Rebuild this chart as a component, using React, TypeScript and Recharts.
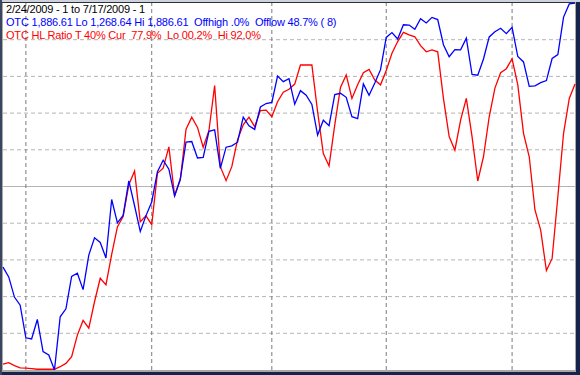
import React from 'react';
import { LineChart, Line, XAxis, YAxis, ReferenceLine } from 'recharts';

const dates: string[] = [
  '2/24', '2/25', '2/26', '2/27',
  '3/2', '3/3', '3/4', '3/5', '3/6', '3/9', '3/10', '3/11', '3/12', '3/13', '3/16', '3/17', '3/18', '3/19', '3/20',
  '3/23', '3/24', '3/25', '3/26', '3/27', '3/30', '3/31',
  '4/1', '4/2', '4/3', '4/6', '4/7', '4/8', '4/9', '4/13', '4/14', '4/15', '4/16', '4/17', '4/20', '4/21', '4/22',
  '4/23', '4/24', '4/27', '4/28', '4/29', '4/30',
  '5/1', '5/4', '5/5', '5/6', '5/7', '5/8', '5/11', '5/12', '5/13', '5/14', '5/15', '5/18', '5/19', '5/20', '5/21',
  '5/22', '5/26', '5/27', '5/28', '5/29',
  '6/1', '6/2', '6/3', '6/4', '6/5', '6/8', '6/9', '6/10', '6/11', '6/12', '6/15', '6/16', '6/17', '6/18', '6/19',
  '6/22', '6/23', '6/24', '6/25', '6/26', '6/29', '6/30',
  '7/1', '7/2', '7/6', '7/7', '7/8', '7/9', '7/10', '7/13', '7/14', '7/15', '7/16', '7/17',
];

const otc: number[] = [
  1441.83, 1425.43, 1391.47, 1377.84,
  1322.85, 1321.01, 1353.74, 1299.59, 1293.85, 1268.64, 1358.28, 1371.64, 1426.1, 1431.5, 1404.02, 1462.11, 1491.22,
  1483.48, 1457.27, 1555.77, 1516.52, 1528.95, 1587.0, 1545.2, 1501.8, 1528.59,
  1551.6, 1602.63, 1621.87, 1606.71, 1561.61, 1590.66, 1652.54, 1653.31, 1625.72, 1626.8, 1670.44, 1673.07, 1608.21,
  1643.85, 1646.12, 1652.21, 1694.29, 1679.7, 1673.81, 1711.51, 1717.3,
  1719.2, 1763.56, 1754.12, 1759.1, 1716.24, 1739.0, 1731.24, 1715.92, 1664.19, 1689.21, 1680.14, 1732.36, 1734.54,
  1727.84, 1695.25, 1692.01, 1750.43, 1731.08, 1751.79, 1774.33,
  1828.68, 1836.8, 1825.92, 1850.02, 1849.42, 1842.4, 1860.13, 1853.08, 1862.37, 1858.8, 1816.38, 1796.18, 1808.06,
  1807.72, 1827.47, 1766.19, 1764.92, 1792.34, 1829.54, 1838.22, 1844.06, 1835.04,
  1845.72, 1796.52, 1787.4, 1746.17, 1747.17, 1752.55, 1756.03, 1793.21, 1799.73, 1862.9, 1885.03, 1886.61,
];

const hlRatio: number[] = [
  1.6, 2.0, 1.2, 0.6,
  0.5, 0.4, 0.2, 0.2, 0.2, 0.2, 0.9, 1.8, 3.6, 9.5, 13.5, 11.4, 18.6, 25.0, 23.2,
  31.5, 39.0, 41.8, 50.5, 54.2, 40.4, 42.0,
  39.6, 53.6, 55.0, 60.8, 47.5, 51.8, 65.6, 68.9, 66.1, 60.7, 65.2, 77.5, 55.4, 51.6, 55.4,
  62.7, 66.8, 68.9, 66.3, 70.7, 70.8,
  69.0, 73.1, 75.7, 76.5, 77.9, 83.1, 83.1, 83.1, 70.4, 59.0, 55.6, 66.8, 77.0, 80.4, 74.0,
  77.7, 81.0, 81.9, 79.0, 77.7,
  81.6, 86.3, 89.5, 92.0, 91.3, 90.8, 88.4, 86.7, 87.2, 86.7, 74.0, 63.6, 59.9, 68.1, 74.0,
  63.6, 51.5, 58.1, 69.0, 76.8, 81.0, 82.1,
  84.8, 77.7, 64.5, 58.1, 43.6, 38.1, 27.1, 30.4, 47.2, 64.5, 74.0, 77.9,
];

const monthStarts: string[] = ['3/2', '4/1', '5/1', '6/1', '7/1'];
const dashedLevels: number[] = [10, 20, 30, 40, 60, 70, 80, 90];
const solidLevel = 50;

const headerLines: { text: string; color: string }[] = [
  { text: '2/24/2009 - 1 to 7/17/2009 - 1', color: '#000000' },
  { text: 'OTC 1,886.61 Lo 1,268.64 Hi 1,886.61  Offhigh .0%  Offlow 48.7% ( 8)', color: '#0000ff' },
  { text: 'OTC HL Ratio T 40% Cur  77.9%  Lo 00.2%  Hi 92.0%', color: '#ff0000' },
];

const data = dates.map((d, i) => ({ date: d, otc: otc[i], ratio: hlRatio[i] }));

export default function App() {
  return (
    <div style={{ position: 'fixed', left: 0, top: 0, width: 580, height: 375, background: '#16244c', overflow: 'hidden' }}>
      <div style={{ position: 'absolute', left: 0, top: 0, width: 580, height: 2, background: '#cdd3de' }} />
      <div style={{ position: 'absolute', left: 0, top: 0, width: 2, height: 375, background: '#3a4660' }} />
      <div style={{ position: 'absolute', left: 2, top: 2, width: 574, height: 370, background: '#a8a8a8' }} />
      <div style={{ position: 'absolute', left: 2, top: 2, width: 573, height: 1, background: '#303030' }} />
      <div style={{ position: 'absolute', left: 3, top: 3, width: 572, height: 367, background: '#ffffff' }} />
      <div style={{ position: 'absolute', left: 0, top: 0 }}>
        <LineChart width={580} height={375} data={data} margin={{ top: 3, right: 5, bottom: 5, left: 3 }}>
          <XAxis dataKey="date" hide padding={{ left: 0, right: 0 }} />
          <YAxis yAxisId="ratio" hide domain={[0, 100]} allowDataOverflow />
          <YAxis yAxisId="otc" hide domain={[1268.64, 1886.61]} allowDataOverflow />
          {dashedLevels.map((v) => (
            <ReferenceLine key={'h' + v} yAxisId="ratio" y={v} stroke="#b4b4b4" strokeDasharray="4 3" />
          ))}
          <ReferenceLine yAxisId="ratio" y={solidLevel} stroke="#b4b4b4" />
          {monthStarts.map((d) => (
            <ReferenceLine key={'v' + d} yAxisId="ratio" x={d} stroke="#7a7a7a" strokeDasharray="4 3" />
          ))}
          <Line yAxisId="ratio" type="linear" dataKey="ratio" stroke="#ff0000" strokeWidth={1.3} dot={false} isAnimationActive={false} />
          <Line yAxisId="otc" type="linear" dataKey="otc" stroke="#0000ff" strokeWidth={1.3} dot={false} isAnimationActive={false} />
        </LineChart>
      </div>
      <svg width={580} height={375} style={{ position: 'absolute', left: 0, top: 0, pointerEvents: 'none' }}>
        {headerLines.map((l, i) => (
          <text
            key={i}
            x={6}
            y={13 + i * 13}
            fill={l.color}
            fontFamily="'Liberation Sans', Arial, sans-serif"
            fontSize={11}
            letterSpacing={-0.2}
            style={{ whiteSpace: 'pre' }}
          >
            {l.text}
          </text>
        ))}
      </svg>
    </div>
  );
}
